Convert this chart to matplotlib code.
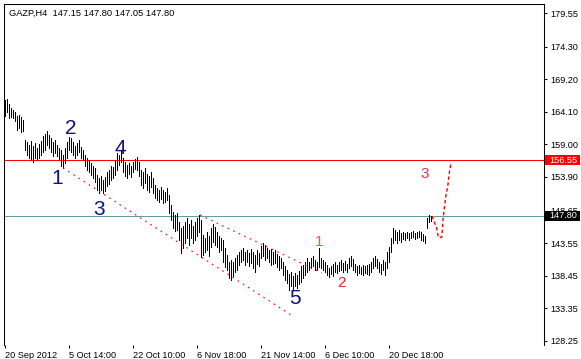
import numpy as np
import matplotlib
matplotlib.use('Agg')
import matplotlib.pyplot as plt
import matplotlib.transforms as mtransforms
from matplotlib.patches import Rectangle

plt.rcParams['font.family'] = ['Liberation Sans', 'DejaVu Sans']

# GAZP H4 bars, highs / lows
highs = [
    165.94, 166.10, 165.32, 164.69, 164.38, 164.07, 163.44, 163.60, 163.28, 162.82,
    159.69, 159.38, 158.91, 159.53, 158.75, 159.22, 158.44, 159.06, 159.53, 160.31,
    160.63, 161.10, 160.47, 160.00, 159.38, 159.69, 158.91, 158.44, 158.12, 157.34,
    158.44, 159.38, 160.16, 160.00, 159.38, 158.75, 159.22, 159.69, 158.59, 158.12,
    157.34, 156.87, 156.56, 156.09, 155.62, 155.31, 154.21, 153.75, 154.06, 153.43,
    153.90, 154.68, 155.00, 155.62, 155.47, 156.56, 157.66, 157.34, 157.97, 156.87,
    156.25, 155.78, 156.09, 155.62, 156.25, 156.72, 157.03, 156.25, 155.00, 154.68,
    155.31, 154.37, 154.06, 154.68, 153.75, 152.65, 152.18, 151.87, 152.34, 151.87,
    151.56, 152.18, 151.09, 149.52, 148.43, 147.96, 148.27, 146.86, 145.92, 146.24,
    146.86, 147.49, 146.55, 147.18, 146.24, 146.86, 147.49, 147.96, 147.18, 144.83,
    144.36, 145.30, 144.67, 145.92, 146.55, 146.08, 145.30, 144.67, 144.36, 144.05,
    142.80, 141.70, 140.61, 140.92, 140.61, 141.23, 141.70, 142.17, 142.48, 142.80,
    142.17, 142.48, 142.01, 142.64, 142.17, 141.70, 142.48, 142.01, 143.11, 143.58,
    143.26, 142.80, 142.48, 142.64, 142.17, 142.48, 141.86, 141.55, 141.23, 140.61,
    139.98, 139.36, 138.73, 139.04, 138.42, 138.89, 138.57, 139.20, 139.98, 140.14,
    140.61, 141.23, 140.61, 141.23, 141.55, 140.92, 140.61, 142.80, 141.23, 140.92,
    140.61, 140.14, 139.67, 139.98, 140.29, 140.61, 140.14, 140.61, 140.92, 140.45,
    140.76, 140.29, 141.23, 141.55, 141.08, 140.29, 139.98, 140.14, 139.82, 140.14,
    139.98, 140.14, 140.29, 140.61, 141.23, 141.55, 141.08, 140.61, 140.29, 140.92,
    140.61, 142.17, 142.95, 144.36, 145.92, 145.61, 145.30, 145.61, 145.14, 145.30,
    145.14, 145.30, 145.14, 145.30, 145.45, 145.14, 145.30, 145.45, 145.30, 144.98,
    144.67, 147.49, 147.96, 147.80,
]
lows = [
    163.44, 164.07, 163.13, 163.28, 163.13, 162.66, 161.25, 161.56, 160.94, 161.10,
    158.12, 157.34, 156.87, 156.56, 156.25, 156.87, 156.56, 156.87, 157.34, 157.81,
    158.12, 158.91, 158.44, 157.81, 157.19, 157.66, 157.19, 156.56, 155.62, 155.31,
    156.09, 156.87, 158.12, 157.81, 157.34, 156.87, 157.34, 157.81, 156.87, 156.56,
    155.62, 155.00, 154.68, 154.21, 153.75, 153.12, 151.87, 151.40, 151.87, 151.40,
    151.71, 152.49, 152.81, 153.43, 153.75, 154.21, 155.00, 155.78, 156.25, 154.68,
    154.06, 153.75, 154.37, 153.90, 154.68, 155.15, 155.00, 154.06, 152.65, 152.18,
    152.96, 151.87, 151.56, 152.34, 151.40, 150.62, 150.30, 149.99, 150.46, 149.83,
    149.99, 150.30, 148.27, 147.18, 145.92, 145.45, 145.61, 144.05, 142.01, 142.80,
    143.58, 144.36, 143.26, 144.36, 143.58, 144.05, 144.67, 145.30, 141.39, 141.70,
    142.17, 142.48, 141.55, 142.95, 143.73, 143.26, 143.00, 142.17, 142.48, 140.61,
    139.82, 139.36, 138.10, 137.79, 138.42, 139.04, 139.36, 140.14, 140.61, 140.92,
    140.14, 140.61, 139.98, 140.45, 139.67, 139.04, 140.29, 139.98, 141.23, 141.55,
    140.92, 141.23, 140.61, 140.14, 140.29, 140.45, 139.82, 139.36, 139.67, 138.57,
    137.79, 137.32, 136.23, 136.85, 136.23, 136.85, 136.54, 137.17, 137.48, 138.10,
    138.57, 139.04, 139.36, 139.67, 139.98, 139.36, 139.36, 139.82, 139.67, 139.36,
    139.04, 138.57, 138.26, 138.73, 138.42, 139.04, 138.89, 139.20, 139.36, 139.04,
    139.36, 139.04, 139.67, 139.98, 139.36, 139.04, 138.57, 138.89, 138.73, 138.57,
    138.89, 138.73, 138.57, 139.04, 139.67, 139.98, 139.67, 139.04, 138.73, 139.36,
    138.57, 139.67, 140.61, 142.17, 143.58, 144.05, 143.58, 144.05, 143.73, 144.20,
    144.05, 144.36, 144.05, 144.36, 144.52, 144.20, 144.36, 144.52, 144.05, 143.89,
    143.58, 145.92, 146.86, 147.05,
]

header = 'GAZP,H4  147.15 147.80 147.05 147.80'
bid = 147.80
target = 156.55

yticks = [179.55, 174.30, 169.20, 164.10, 159.00, 153.90, 148.65, 143.55, 138.45, 133.35, 128.25]
xtick_bars = [0, 32, 64, 96, 128, 160, 192]
xtick_labels = ['20 Sep 2012', '5 Oct 14:00', '22 Oct 10:00', '6 Nov 18:00',
                '21 Nov 14:00', '6 Dec 10:00', '20 Dec 18:00']

# drawn objects: channel lines and the projected move
chan_low_x, chan_low_y = [29, 143], [155.31, 132.32]
chan_up_x, chan_up_y = [97.5, 158.5], [147.96, 138.89]
proj_x = [213.5, 215.85, 216.65, 218.35, 219.15, 220.35, 221.35, 222.15, 223.0]
proj_y = [147.80, 145.92, 144.47, 144.47, 147.70, 150.82, 152.38, 154.53, 156.13]

# wave labels: text, bar, price
waves_blue = [('1', 26.25, 153.67), ('2', 32.75, 161.41), ('3', 47.0, 148.82),
              ('4', 57.75, 158.28), ('5', 144.75, 134.90)]
waves_red = [('1', 157.0, 143.66, '#ff5040'), ('2', 168.5, 137.24, '#ff2020'),
             ('3', 209.75, 154.37, '#e8305a')]

fig = plt.figure(figsize=(5.81, 3.59), dpi=100)
ax = fig.add_axes([4 / 581, 14 / 359, 540 / 581, 341 / 359])

idx = np.arange(len(highs))
ax.vlines(idx, lows, highs, color='black', lw=0.55, antialiased=False, zorder=3)

ax.axhline(target, color='#ff0000', lw=0.75, zorder=2)
ax.axhline(bid, color='#5f9ea0', lw=0.75, zorder=2)

ax.plot(chan_low_x, chan_low_y, color='#ff0000', lw=0.8, ls=(0, (1.5, 4)), zorder=4)
ax.plot(chan_up_x, chan_up_y, color='#ff0000', lw=0.8, ls=(0, (1.5, 4)), zorder=4)
ax.plot(proj_x, proj_y, color='#ff0000', lw=1.0, ls=(0, (2.5, 1.8)), zorder=4)

for t, x, y in waves_blue:
    ax.text(x, y, t, color='#10107e', fontsize=15, ha='center', va='center', zorder=5)
for t, x, y, c in waves_red:
    ax.text(x, y, t, color=c, fontsize=11, ha='center', va='center', zorder=5)

ax.set_xlim(-0.5, 269.5)
ax.set_ylim(127.62, 180.96)

for s in ['top', 'left', 'right']:
    ax.spines[s].set_linewidth(0.75)
    ax.spines[s].set_color('black')
ax.spines['bottom'].set_visible(False)

ax.yaxis.tick_right()
ax.set_yticks(yticks)
ax.set_yticklabels(['%.2f' % v for v in yticks])
ax.set_xticks(xtick_bars)
ax.set_xticklabels(xtick_labels)
ax.tick_params(axis='y', direction='out', length=2.5, width=0.75, labelsize=6.6, pad=2)
ax.tick_params(axis='x', direction='out', length=2.5, width=0.75, labelsize=6.6, pad=2)
for lab in ax.get_xticklabels():
    lab.set_ha('left')

ax.text(5 / 540, 1 - 5 / 341, header, transform=ax.transAxes, fontsize=6.7,
        ha='left', va='top')

# price label boxes on the right scale
trans = mtransforms.blended_transform_factory(ax.transAxes, ax.transData)
box_h = 1.45
for val, fc in [(target, '#ff0000'), (bid, 'black')]:
    ax.add_patch(Rectangle((1.0015, val - box_h / 2), 35 / 540, box_h, transform=trans,
                           facecolor=fc, edgecolor='none', clip_on=False, zorder=6))
    ax.text(1 + 5 / 540, val, '%.2f' % val, transform=trans, color='white',
            fontsize=6.6, ha='left', va='center', clip_on=False, zorder=7)

fig.savefig('out.png', dpi=100)
